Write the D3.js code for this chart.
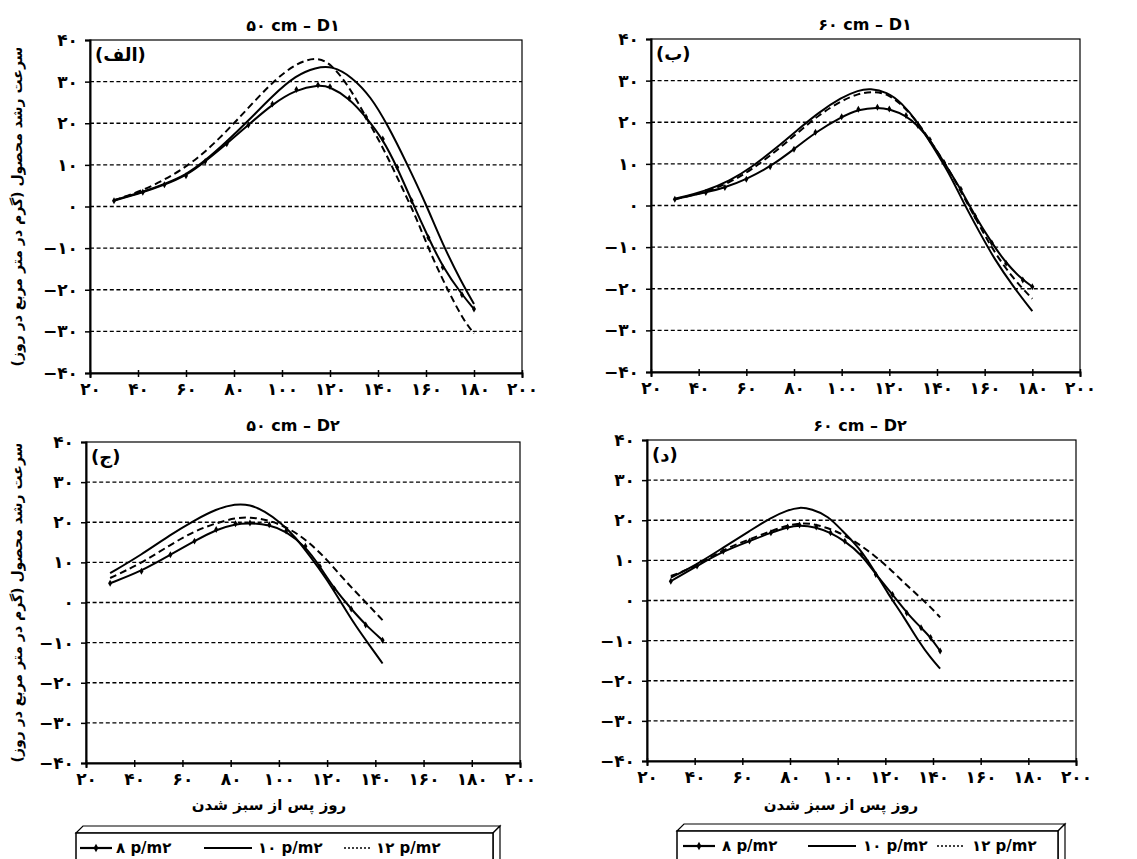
<!DOCTYPE html>
<html>
<head>
<meta charset="utf-8">
<script src="https://cdn.jsdelivr.net/npm/d3@7/dist/d3.min.js"></script>
<style>
  body { margin: 0; background: #fff; }
  svg { display: block; }
  text { font-family: "DejaVu Sans", sans-serif; font-weight: bold; fill: #000; }
</style>
</head>
<body>
<svg id="chart" width="1137" height="859"></svg>
<script>
// tick values
var xTicks = [20, 40, 60, 80, 100, 120, 140, 160, 180, 200];
var yTicks = [-40, -30, -20, -10, 0, 10, 20, 30, 40];
var gridTicks = [-30, -20, -10, 0, 10, 20, 30];

var titles = ["۵۰ cm – D۱", "۶۰ cm – D۱", "۵۰ cm – D۲", "۶۰ cm – D۲"];
var letters = ["(الف)", "(ب)", "(ج)", "(د)"];
var seriesNames = ["۸ p/m۲", "۱۰ p/m۲", "۱۲ p/m۲"];
var yTitle = "سرعت رشد محصول (گرم در متر مربع در روز)";
var xTitle = "روز پس از سبز شدن";

// panel (الف)  50 cm - D1
var a8 = [[30,1.4],[42,3.4],[51,5.2],[60,7.4],[68,10.8],[77,15.1],[86,19.6],[96,24.6],[106,28.1],[115,29.2],
          [120,28.8],[128,26],[135,21.5],[142,16.2],[148,9.4],[154,1.4],[161,-7.5],[167,-14.6],[175,-21.2],[180,-24.6]];
var a10 = [[30,1.5],[42,3.5],[51,5.4],[60,7.6],[68,11],[77,15.6],[86,20.6],[96,26.6],[106,31.6],[114,33.4],
           [121,33.8],[129,31.2],[137,26.4],[144,19.6],[152,10.4],[160,0.6],[167,-9.2],[175,-18.4],[180,-23.4]];
var a12 = [[30,1.5],[42,3.8],[55,7.6],[65,11.6],[74,16.4],[81,20.6],[89,25.6],[97,30.4],[106,34.4],[114,35.9],
           [120,34.6],[128,28.8],[134,22.5],[142,14.3],[149,5.8],[156,-2.7],[162,-11.5],[170,-21.2],[176,-27.6],[180,-30.5]];

// panel (ب)  60 cm - D1
var b8 = [[30,1.5],[43,3.1],[51,4.3],[60,6.3],[70,9.3],[80,13.5],[89,17.6],[100,21.3],[107,23.1],[115,23.6],
          [120,23.2],[127,21.6],[132,19.2],[137,15.8],[143,10.3],[150,3.9],[156,-2.6],[163,-9],[169,-13.9],[176,-17.9],[180,-19.5]];
var b10 = [[30,1.6],[43,3.5],[53,5.9],[62,9.1],[73,14],[82,18.4],[90,22.2],[100,26],[107,27.7],[112,28.1],
           [119,27.3],[125,24.8],[132,20],[138,14.4],[145,7.9],[151,0.8],[158,-6.6],[164,-12.8],[172,-19.5],[180,-25.4]];
var b12 = [[30,1.5],[43,3.2],[53,5.5],[62,8.5],[73,13.3],[82,17.7],[91,22],[100,25.2],[107,26.9],[113,27.4],
           [119,26.9],[125,24.4],[132,20],[138,14.8],[145,8.7],[151,2.3],[158,-5],[164,-11.2],[172,-17.6],[180,-22.4]];

// panel (ج)  50 cm - D2
var c8 = [[30,4.8],[43,7.8],[55,11.9],[65,15.3],[74,18.2],[82,19.6],[88,19.8],[96,19.4],[103,17.8],[111,14],
          [117,9],[123,3.4],[130,-1.6],[136,-5.6],[143,-9.4]];
var c10 = [[30,7.3],[43,11.9],[55,16.9],[65,20.5],[74,23.3],[82,24.6],[88,24.4],[94,22.8],[101,19.8],[107,16.2],
           [113,11.5],[120,5.7],[126,-0.2],[132,-6],[138,-11],[143,-15.2]];
var c12 = [[30,6.1],[43,9.8],[55,14.4],[65,17.8],[74,19.8],[82,21.1],[88,21.3],[96,20.5],[104,18.6],[112,15.3],
           [120,10.7],[127,5.7],[135,0.7],[143,-4.4]];

// panel (د)  60 cm - D2
var d8 = [[30,4.8],[41,8.6],[52,12.3],[63,14.8],[72,16.9],[79,18.3],[84,18.8],[91,18.3],[97,16.9],[103,14.8],
          [110,11.5],[116,6.5],[123,1.5],[129,-3.1],[135,-6.8],[139,-9.2],[143,-12.6]];
var d10 = [[30,5.7],[41,9],[52,13.2],[63,17.3],[72,20.7],[79,22.5],[84,23.3],[89,22.8],[96,21.1],[102,17.3],
           [109,13.2],[115,7.8],[121,1.8],[128,-4.3],[134,-10.2],[139,-14.3],[143,-17]];
var d12 = [[30,6.1],[41,8.6],[52,12.75],[63,15.25],[72,17.3],[79,18.8],[86,19.4],[92,18.8],[100,17.2],[107,14.8],
           [115,11.5],[123,7.3],[130,3.2],[138,-1],[143,-4.2]];

var panelSeries = [[a8, a10, a12], [b8, b10, b12], [c8, c10, c12], [d8, d10, d12]];

// layout
var boxes = [
  {l: 90,  r: 522,  t: 40,  b: 373, tx: 293, ty: 31},
  {l: 651, r: 1080, t: 39,  b: 372, tx: 865, ty: 30},
  {l: 86,  r: 520,  t: 442, b: 763, tx: 293, ty: 431},
  {l: 647, r: 1076, t: 440, b: 761, tx: 860, ty: 431}
];

var faDigits = "۰۱۲۳۴۵۶۷۸۹";
function toFa(n) {
  var s = String(Math.abs(n)).replace(/[0-9]/g, function(c) { return faDigits[+c]; });
  return (n < 0 ? "−" : "") + s;
}

var svg = d3.select("#chart");
var dashes = [null, null, "7,4"];

boxes.forEach(function(bx, i) {
  var x = d3.scaleLinear().domain([20, 200]).range([bx.l, bx.r]);
  var y = d3.scaleLinear().domain([-40, 40]).range([bx.b, bx.t]);
  var g = svg.append("g");

  // grid
  g.selectAll("line.grid")
    .data(gridTicks)
    .enter().append("line")
      .attr("x1", bx.l).attr("x2", bx.r)
      .attr("y1", function(d) { return y(d); })
      .attr("y2", function(d) { return y(d); })
      .attr("stroke", "#000")
      .attr("stroke-width", 1.4)
      .attr("stroke-dasharray", "4,2.6");

  // frame
  g.append("rect")
    .attr("x", bx.l).attr("y", bx.t)
    .attr("width", bx.r - bx.l).attr("height", bx.b - bx.t)
    .attr("fill", "none").attr("stroke", "#000").attr("stroke-width", 1.2);

  // axes
  var xAxis = d3.axisBottom(x).tickValues(xTicks).tickSize(5).tickFormat(toFa);
  var yAxis = d3.axisLeft(y).tickValues(yTicks).tickSize(5).tickFormat(toFa);

  var gx = g.append("g").attr("transform", "translate(0," + bx.b + ")").call(xAxis);
  gx.select(".domain").attr("stroke-width", 2);
  gx.selectAll(".tick line").attr("stroke-width", 1.5).attr("y2", 4).attr("y1", -3);
  gx.selectAll("text").attr("dy", "1.05em").attr("y", 4)
    .style("font-size", "17px").style("font-family", "DejaVu Sans").style("font-weight", "bold");

  var gy = g.append("g").attr("transform", "translate(" + bx.l + ",0)").call(yAxis);
  gy.select(".domain").attr("stroke-width", 2);
  gy.selectAll(".tick line").attr("stroke-width", 1.5);
  gy.selectAll("text").attr("x", -12)
    .style("font-size", "17px").style("font-family", "DejaVu Sans").style("font-weight", "bold");

  // title and letter
  g.append("text")
    .attr("x", bx.tx).attr("y", bx.ty)
    .attr("text-anchor", "middle")
    .style("font-size", "16px")
    .text(titles[i]);

  g.append("text")
    .attr("x", bx.l + 5).attr("y", bx.t + 21)
    .style("font-size", "18px")
    .text(letters[i]);

  // series
  var line = d3.line()
    .x(function(d) { return x(d[0]); })
    .y(function(d) { return y(d[1]); })
    .curve(d3.curveBasis);

  panelSeries[i].forEach(function(s, k) {
    g.append("path")
      .datum(s)
      .attr("d", line)
      .attr("fill", "none")
      .attr("stroke", "#000")
      .attr("stroke-width", 2)
      .attr("stroke-dasharray", dashes[k]);
  });

  g.selectAll("path.mk")
    .data(panelSeries[i][0])
    .enter().append("path")
      .attr("class", "mk")
      .attr("transform", function(d) { return "translate(" + x(d[0]) + "," + y(d[1]) + ")"; })
      .attr("d", d3.symbol().type(d3.symbolDiamond).size(14));
});

// y titles (left panels)
[0, 2].forEach(function(i) {
  var bx = boxes[i];
  var cy = (bx.t + bx.b) / 2;
  svg.append("text")
    .attr("transform", "translate(22," + cy + ") rotate(-90)")
    .attr("text-anchor", "middle")
    .attr("direction", "rtl")
    .style("font-size", "14px")
    .text(yTitle);
});

// x titles (bottom panels)
[2, 3].forEach(function(i) {
  svg.append("text")
    .attr("x", i == 2 ? 269 : 841).attr("y", 810)
    .attr("text-anchor", "middle")
    .attr("direction", "rtl")
    .style("font-size", "15px")
    .text(xTitle);
});

// legends
var legends = [
  {l: 76, r: 500, t: 833, off: [4, 40, 128, 182, 268, 300]},
  {l: 677, r: 1065, t: 831, off: [6, 45, 131, 186, 260, 295]}
];
legends.forEach(function(lg) {
  var g = svg.append("g");
  var d = 7;
  g.append("polygon")
    .attr("points", [[lg.l, lg.t], [lg.l + d, lg.t - d], [lg.r, lg.t - d], [lg.r - d, lg.t]].join(" "))
    .attr("fill", "#fff").attr("stroke", "#000").attr("stroke-width", 1.2);
  g.append("polygon")
    .attr("points", [[lg.r - d, lg.t], [lg.r, lg.t - d], [lg.r, 862], [lg.r - d, 862]].join(" "))
    .attr("fill", "#fff").attr("stroke", "#000").attr("stroke-width", 1.2);
  g.append("rect")
    .attr("x", lg.l).attr("y", lg.t)
    .attr("width", lg.r - d - lg.l).attr("height", 40)
    .attr("fill", "#fff").attr("stroke", "#000").attr("stroke-width", 1.5);

  var ly = lg.t + 15;
  var lens = [32, 48, 28];
  seriesNames.forEach(function(name, k) {
    var x0 = lg.l + lg.off[k * 2];
    g.append("line")
      .attr("x1", x0).attr("x2", x0 + lens[k])
      .attr("y1", ly).attr("y2", ly)
      .attr("stroke", "#000").attr("stroke-width", k == 2 ? 1.5 : 2.2)
      .attr("stroke-dasharray", k == 2 ? "2,2" : null);
    if (k == 0) {
      g.append("path")
        .attr("transform", "translate(" + (x0 + lens[k] / 2) + "," + ly + ")")
        .attr("d", d3.symbol().type(d3.symbolDiamond).size(20));
    }
    g.append("text")
      .attr("x", lg.l + lg.off[k * 2 + 1]).attr("y", ly + 5)
      .style("font-size", "15px")
      .text(name);
  });
});
</script>
</body>
</html>
